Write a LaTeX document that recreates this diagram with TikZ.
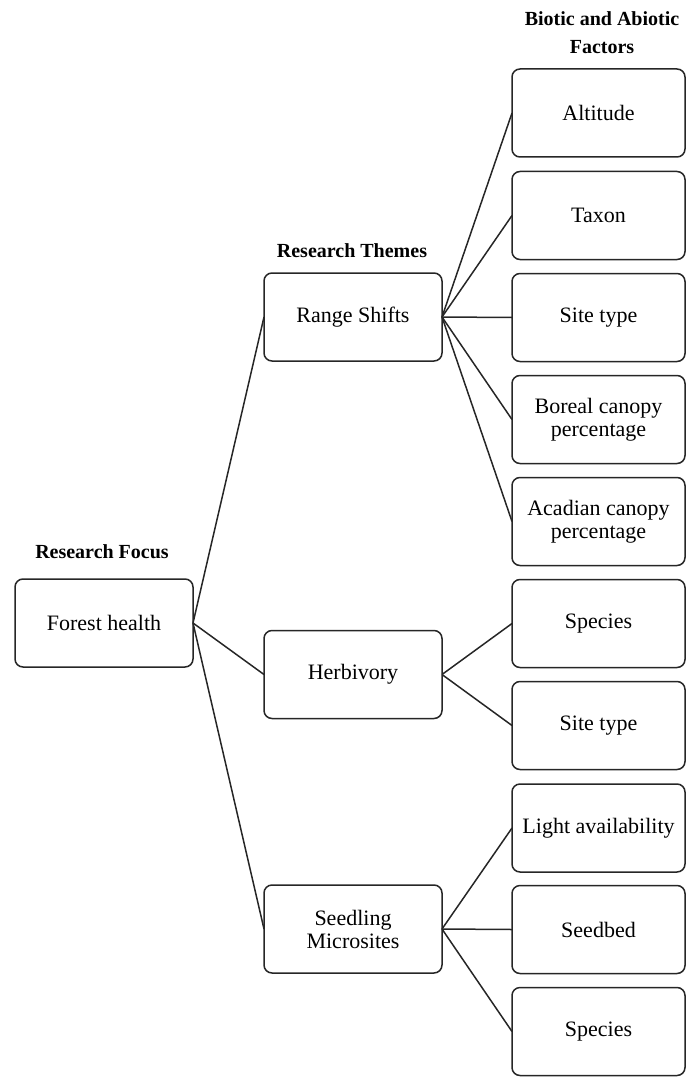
\documentclass[tikz,border=0pt]{standalone}
\usepackage{fontspec}
\setmainfont{Liberation Serif}
\begin{document}
\begin{tikzpicture}[x=1pt,y=-1pt,
  box/.style={draw=black!85, line width=1.5pt, rounded corners=8pt, minimum height=88pt, inner sep=2pt, outer sep=0pt, align=center, font=\fontsize{22}{23}\selectfont},
  mid/.style={box, minimum width=178pt},
  leaf/.style={box, minimum width=173pt},
  hdr/.style={font=\bfseries\fontsize{20}{28}\selectfont, align=center, anchor=base},
  link/.style={draw=black!85, line width=1.5pt}]
\useasboundingbox (0,0) rectangle (686,1078);
% headers
\node[hdr] (h3) at (602,54) {Biotic and Abiotic\\Factors};
\node[hdr] (h2) at (352,257) {Research Themes};
\node[hdr] (h1) at (102,558) {Research Focus};
% focus
\node[mid] (fh) at (104,623) {Forest health};
% themes
\node[mid] (rs) at (353,317) {Range Shifts};
\node[mid] (hb) at (353,674.5) {Herbivory};
\node[mid] (sm) at (353,929) {Seedling\\Microsites};
% factors
\node[leaf] (f1) at (598.5,113) {Altitude};
\node[leaf] (f2) at (598.5,215.5) {Taxon};
\node[leaf] (f3) at (598.5,317.5) {Site type};
\node[leaf] (f4) at (598.5,419.5) {Boreal canopy\\percentage};
\node[leaf] (f5) at (598.5,521.5) {Acadian canopy\\percentage};
\node[leaf] (f6) at (598.5,623.5) {Species};
\node[leaf] (f7) at (598.5,725.5) {Site type};
\node[leaf] (f8) at (598.5,828) {Light availability};
\node[leaf] (f9) at (598.5,929.5) {Seedbed};
\node[leaf] (f10) at (598.5,1031.5) {Species};
% connectors
\foreach \t in {rs,hb,sm} \draw[link] (fh.east) -- (\t.west);
\foreach \t in {f1,f2,f3,f4,f5} \draw[link] (rs.east) -- (\t.west);
\foreach \t in {f6,f7} \draw[link] (hb.east) -- (\t.west);
\foreach \t in {f8,f9,f10} \draw[link] (sm.east) -- (\t.west);
\end{tikzpicture}
\end{document}
